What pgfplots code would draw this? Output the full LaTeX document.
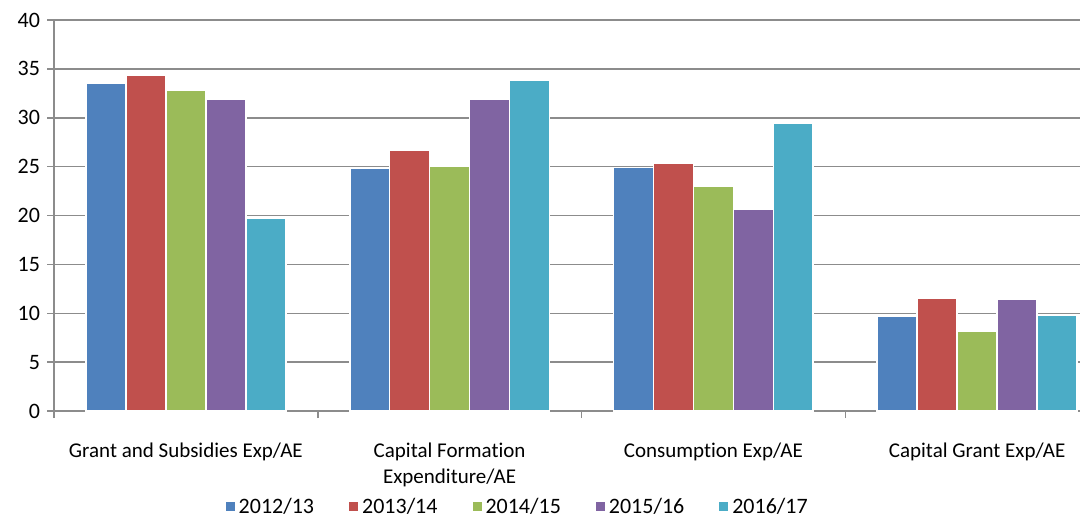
\documentclass[border=0pt]{standalone}
\usepackage{pgfplots}
\pgfplotsset{compat=1.18}
\usepackage{fontspec}
\setmainfont{Carlito}[Ligatures=NoCommon]
\definecolor{c1}{HTML}{4F81BD}
\definecolor{c2}{HTML}{C0504D}
\definecolor{c3}{HTML}{9BBB59}
\definecolor{c4}{HTML}{8064A2}
\definecolor{c5}{HTML}{4BACC6}
\definecolor{axgray}{RGB}{140,140,140}
\pgfplotsset{
  layers/mylayers/.define layer set={axis background,axis grid,main,axis ticks,axis lines,axis tick labels,axis descriptions,axis foreground}{},
}
\begin{document}
\begin{tikzpicture}
\begin{axis}[
  set layers=mylayers,
  at={(27pt,52.5pt)}, anchor=south west,
  scale only axis, width=527.5pt, height=195.5pt,
  ybar=0pt, bar width=0.1515,
  xmin=-0.5, xmax=3.5, ymin=0, ymax=40,
  ytick={0,5,...,40},
  xtick={-0.5,0.5,1.5,2.5,3.5},
  x tick label as interval,
  xticklabels={Grant and Subsidies Exp/AE, {Capital Formation\\Expenditure/AE}, Consumpt\kern0pt ion Exp/AE, Capital Grant Exp/AE},
  xticklabel style={align=center, font=\fontsize{10.5}{13}\selectfont, yshift=-9pt},
  yticklabel style={font=\fontsize{11}{13}\selectfont},
  /pgf/number format/assume math mode=true,
  axis x line*=bottom, axis y line*=left,
  axis line style={draw=axgray, line width=0.75pt, -},
  tick align=outside, major tick length=3.5pt,
  tick style={draw=axgray, line width=0.75pt},
  ymajorgrids, grid style={draw=axgray, line width=0.75pt},
  legend columns=5,
  legend style={at={(0.4405,-0.2455)}, anchor=center, draw=none, fill=none,
    font=\fontsize{11}{13}\selectfont,
    /tikz/every even column/.append style={column sep=15.5pt}},
  legend image code/.code={\path[#1, draw=none] (0pt,-2.2pt) rectangle (4.5pt,2.3pt);},
  every axis plot/.append style={draw=white, line width=0.8pt},
]
\addplot[fill=c1] coordinates {(0,33.5) (1,24.8) (2,24.9) (3,9.7)};
\addplot[fill=c2] coordinates {(0,34.4) (1,26.7) (2,25.4) (3,11.5)};
\addplot[fill=c3] coordinates {(0,32.8) (1,25.0) (2,23.0) (3,8.2)};
\addplot[fill=c4] coordinates {(0,31.9) (1,31.9) (2,20.6) (3,11.4)};
\addplot[fill=c5] coordinates {(0,19.7) (1,33.8) (2,29.4) (3,9.8)};
\legend{2012/13,2013/14,2014/15,2015/16,2016/17}
\end{axis}
\pgfresetboundingbox
\path[use as bounding box] (0,0) rectangle (540pt,258pt);
\end{tikzpicture}
\end{document}
